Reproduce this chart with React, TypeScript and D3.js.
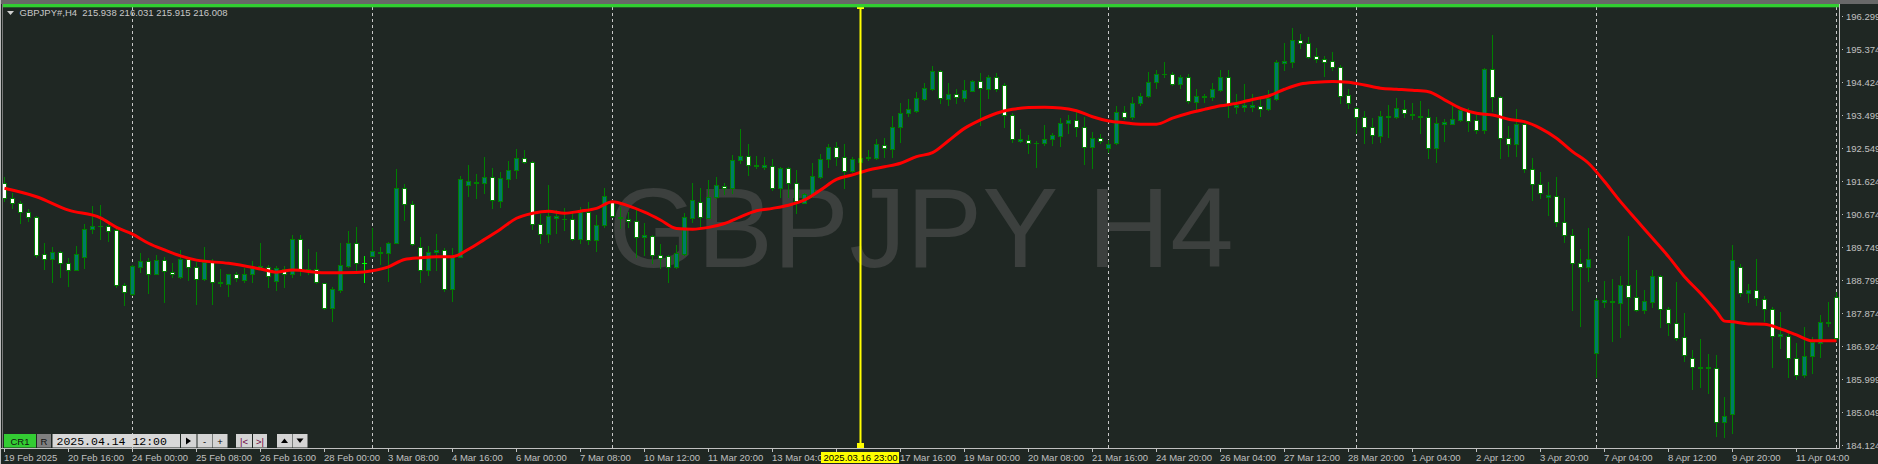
import { useEffect, useRef } from "react"
import * as d3 from "d3"

// GBPJPY H4 candles, 19 Feb 2025 .. 11 Apr 2025
const OPEN = [
  191.56, 191.13, 190.99, 190.74, 190.59, 189.54, 189.4, 189.6, 189.29, 189.09,
  189.46, 190.25, 190.34, 190.34, 190.23, 188.66, 188.41, 189.18, 189.35, 188.98,
  189.37, 189.03, 188.89, 189.4, 189.18, 188.84, 189.32, 188.72, 188.69, 188.98,
  188.81, 188.98, 189.16, 189.18, 188.78, 189.12, 188.98, 189.97, 189.11, 189.12,
  188.72, 188.01, 188.52, 189.2, 189.86, 189.29, 189.49, 189.61, 189.57, 189.86,
  191.42, 190.96, 189.74, 189.09, 189.61, 189.66, 188.55, 189.46, 191.51, 191.6,
  191.56, 191.73, 191.05, 191.67, 191.93, 192.27, 192.16, 190.4, 190.11, 190.58,
  190.54, 190.55, 189.97, 190.74, 189.94, 190.37, 191.02, 190.6, 190.55, 190.48,
  190.04, 190.05, 189.52, 189.49, 189.18, 189.54, 190.57, 191.02, 190.57, 191.16,
  191.48, 191.42, 192.21, 192.33, 192.04, 192.02, 192.04, 191.42, 191.99, 191.56,
  190.99, 191.22, 191.73, 192.24, 192.58, 192.3, 191.9, 192.16, 192.26, 192.27,
  192.65, 192.53, 193.15, 193.55, 193.6, 193.94, 194.23, 194.74, 193.95, 194.08,
  193.97, 194.17, 194.45, 194.23, 194.57, 194.34, 193.49, 192.76, 192.78, 192.69,
  192.69, 192.81, 192.89, 193.26, 193.35, 193.15, 192.58, 192.84, 192.55, 192.69,
  193.57, 193.43, 193.83, 194.03, 194.43, 194.65, 194.65, 194.37, 194.57, 193.86,
  193.99, 194.0, 194.2, 194.57, 193.72, 193.72, 193.72, 193.74, 193.66, 193.94,
  194.97, 194.99, 195.62, 195.53, 195.16, 195.08, 195.02, 194.85, 194.06, 193.69,
  193.43, 193.15, 192.89, 193.44, 193.43, 193.66, 193.53, 193.47, 193.43, 192.55,
  193.24, 193.23, 193.35, 193.6, 193.35, 193.06, 194.79, 194.0, 192.84, 192.67,
  193.23, 191.96, 191.53, 191.16, 191.19, 190.45, 190.08, 189.29, 189.18, 186.74,
  188.19, 188.17, 188.15, 188.66, 188.33, 187.96, 188.18, 188.92, 187.98, 187.59,
  187.19, 186.59, 186.3, 186.3, 186.31, 184.78, 185.0, 189.18, 188.44, 188.52,
  188.27, 187.98, 187.22, 187.22, 186.59, 186.11, 186.65, 187.02, 187.62, 188.33,
]
const HIGH = [
  191.73, 191.28, 191.05, 190.82, 190.61, 189.86, 189.74, 189.63, 189.43, 189.77,
  190.4, 190.91, 190.94, 190.4, 190.28, 188.72, 189.23, 189.57, 189.43, 189.52,
  189.46, 189.29, 189.66, 189.46, 189.32, 189.74, 189.4, 189.12, 188.99, 189.03,
  189.15, 189.35, 189.86, 189.23, 189.2, 189.2, 190.08, 190.08, 189.69, 189.6,
  188.73, 188.61, 189.86, 190.2, 190.31, 189.49, 190.28, 189.74, 189.89, 191.96,
  191.53, 191.05, 190.03, 189.77, 190.11, 189.72, 189.72, 191.76, 192.07, 191.81,
  192.3, 191.99, 191.87, 192.18, 192.53, 192.5, 192.17, 190.68, 191.5, 190.79,
  190.85, 190.71, 190.88, 191.02, 190.65, 191.42, 191.08, 190.88, 190.74, 190.79,
  190.42, 190.08, 189.83, 189.52, 189.8, 190.71, 191.56, 191.42, 191.65, 191.73,
  191.56, 192.35, 193.09, 192.67, 192.33, 192.3, 192.24, 192.0, 192.01, 191.93,
  191.28, 192.13, 192.38, 192.67, 192.72, 192.67, 192.3, 192.5, 192.5, 192.81,
  192.84, 193.46, 193.83, 193.94, 194.14, 194.4, 194.88, 194.77, 194.4, 194.23,
  194.48, 194.48, 194.68, 194.63, 194.68, 194.4, 193.55, 193.09, 192.92, 192.75,
  193.21, 192.98, 193.4, 193.49, 193.57, 193.43, 193.01, 192.95, 192.78, 193.74,
  193.74, 194.0, 194.11, 194.71, 194.77, 194.99, 194.71, 194.63, 194.65, 194.23,
  194.09, 194.4, 194.77, 194.77, 194.09, 194.37, 194.09, 193.94, 194.2, 195.05,
  195.53, 195.96, 195.79, 195.7, 195.39, 195.16, 195.28, 194.91, 194.23, 193.72,
  193.6, 193.4, 193.6, 193.77, 193.97, 193.92, 193.83, 193.89, 193.66, 193.43,
  193.38, 193.77, 193.72, 193.69, 193.49, 194.82, 195.76, 194.03, 193.18, 193.66,
  193.29, 192.27, 191.87, 191.59, 191.73, 191.13, 190.25, 189.69, 190.28, 188.3,
  188.78, 188.84, 188.92, 190.05, 189.09, 188.52, 189.09, 188.95, 188.04, 188.75,
  187.87, 186.82, 187.13, 186.71, 186.68, 185.49, 189.8, 189.26, 188.69, 189.4,
  188.35, 188.04, 187.9, 187.33, 187.02, 187.47, 187.19, 187.82, 188.18, 188.47,
]
const LOW = [
  191.05, 190.85, 190.42, 190.48, 189.46, 189.12, 188.75, 188.89, 188.64, 189.08,
  189.15, 190.14, 189.97, 189.91, 188.61, 188.1, 188.38, 189.03, 188.44, 188.97,
  188.18, 188.89, 188.86, 188.81, 188.13, 188.81, 188.13, 188.64, 188.35, 188.78,
  188.75, 188.75, 189.14, 188.61, 188.52, 188.61, 188.89, 188.95, 188.98, 188.72,
  187.98, 187.64, 188.47, 189.18, 189.03, 188.75, 189.48, 189.26, 188.78, 189.85,
  190.51, 189.8, 188.75, 188.95, 189.09, 188.5, 188.21, 189.45, 191.19, 191.13,
  191.28, 190.85, 190.88, 191.45, 191.7, 192.13, 190.25, 189.86, 189.89, 190.14,
  190.23, 189.94, 189.86, 189.83, 189.63, 190.31, 190.59, 190.28, 190.31, 189.46,
  189.52, 189.29, 189.15, 188.75, 189.15, 189.52, 190.45, 190.31, 190.56, 191.13,
  191.25, 191.28, 192.13, 191.79, 191.99, 191.96, 191.36, 191.16, 191.16, 190.71,
  190.98, 191.16, 191.7, 192.01, 192.07, 191.42, 191.87, 192.13, 192.21, 192.24,
  192.3, 192.3, 192.72, 193.46, 193.58, 193.92, 194.2, 193.83, 193.77, 193.83,
  193.89, 194.16, 193.21, 193.97, 194.17, 193.15, 192.72, 192.72, 192.41, 192.01,
  192.64, 192.64, 192.61, 192.98, 192.89, 192.1, 191.99, 192.69, 192.44, 192.67,
  193.38, 193.38, 193.77, 194.0, 194.26, 194.57, 194.34, 194.26, 193.83, 193.63,
  193.86, 193.92, 194.17, 193.43, 193.55, 193.6, 193.6, 193.46, 193.63, 193.92,
  194.77, 194.85, 195.39, 195.11, 194.99, 194.6, 194.77, 193.83, 193.69, 192.98,
  192.69, 192.69, 192.72, 192.87, 193.4, 193.43, 193.38, 192.98, 192.27, 192.16,
  192.75, 193.22, 193.32, 193.04, 192.98, 192.97, 193.6, 192.27, 192.33, 192.33,
  191.87, 191.08, 191.13, 190.65, 190.34, 189.88, 187.96, 187.5, 188.78, 186.05,
  188.04, 187.08, 187.19, 187.52, 187.93, 187.87, 188.04, 187.47, 187.25, 187.1,
  186.51, 185.71, 185.77, 185.6, 184.38, 184.35, 184.47, 188.35, 188.18, 188.1,
  187.64, 186.34, 186.88, 186.05, 185.99, 186.06, 186.17, 186.62, 187.5, 187.1,
]
const CLOSE = [
  191.13, 190.99, 190.74, 190.59, 189.52, 189.4, 189.6, 189.29, 189.09, 189.54,
  190.25, 190.34, 190.34, 190.2, 188.66, 188.47, 189.2, 189.35, 188.98, 189.37,
  189.06, 188.98, 189.4, 189.18, 188.84, 189.32, 188.75, 188.75, 188.98, 188.86,
  188.98, 189.15, 189.19, 188.92, 189.15, 188.98, 189.97, 189.12, 189.13, 188.75,
  188.01, 188.55, 189.23, 189.86, 189.29, 189.29, 189.63, 189.56, 189.86, 191.42,
  190.96, 189.83, 189.09, 189.6, 189.66, 188.55, 189.49, 191.67, 191.61, 191.56,
  191.73, 191.08, 191.7, 191.93, 192.27, 192.16, 190.4, 190.11, 190.62, 190.62,
  190.55, 189.97, 190.74, 189.94, 190.37, 191.19, 190.62, 190.56, 190.48, 190.03,
  190.08, 189.52, 189.43, 189.18, 189.57, 190.59, 191.08, 190.59, 191.16, 191.5,
  191.42, 192.21, 192.33, 192.07, 192.06, 192.06, 191.42, 191.99, 191.56, 191.05,
  191.25, 191.76, 192.24, 192.58, 192.3, 191.9, 192.24, 192.26, 192.29, 192.67,
  192.55, 193.15, 193.55, 193.66, 193.97, 194.25, 194.74, 193.97, 194.08, 193.99,
  194.2, 194.45, 194.25, 194.57, 194.23, 193.49, 192.81, 192.81, 192.69, 192.69,
  192.81, 192.92, 193.26, 193.35, 193.15, 192.58, 192.84, 192.75, 192.67, 193.57,
  193.43, 193.83, 194.03, 194.43, 194.65, 194.65, 194.37, 194.57, 193.89, 194.03,
  194.02, 194.23, 194.57, 193.77, 193.77, 193.76, 193.76, 193.66, 193.97, 194.99,
  195.02, 195.62, 195.53, 195.13, 195.08, 194.99, 194.85, 194.03, 193.83, 193.43,
  193.15, 192.92, 193.46, 193.46, 193.69, 193.55, 193.48, 193.42, 192.55, 193.26,
  193.28, 193.38, 193.63, 193.32, 193.06, 194.79, 194.0, 192.84, 192.67, 193.23,
  191.96, 191.53, 191.28, 191.22, 190.45, 190.08, 189.29, 189.18, 189.4, 188.24,
  188.24, 188.21, 188.66, 188.33, 187.96, 188.21, 188.92, 187.98, 187.59, 187.16,
  186.68, 186.34, 186.33, 186.33, 184.78, 184.95, 189.37, 188.44, 188.52, 188.3,
  187.98, 187.22, 187.27, 186.59, 186.11, 186.65, 187.05, 187.61, 187.58, 187.16,
]

// moving average, sampled at these bars
const MA_INDEX = [
  0, 4, 8, 12, 14, 16, 18, 20, 22, 24, 28, 32, 34, 36, 40, 44, 46, 48, 50, 52,
  54, 56, 58, 60, 62, 64, 66, 68, 70, 72, 74, 76, 78, 80, 82, 84, 86, 88, 90, 92,
  94, 96, 98, 100, 102, 104, 106, 108, 110, 112, 114, 116, 118, 120, 122, 124, 126, 128, 130, 132,
  134, 136, 138, 140, 142, 144, 146, 148, 150, 152, 154, 156, 158, 160, 162, 164, 166, 168, 170, 172,
  174, 176, 178, 180, 182, 184, 186, 188, 190, 192, 194, 196, 198, 200, 202, 204, 206, 208, 210, 212,
  214, 215, 216, 218, 220, 222, 224, 226, 228, 229,
]
const MA_VALUE = [
  191.41, 191.17, 190.79, 190.57, 190.3, 190.11, 189.85, 189.66, 189.49, 189.37,
  189.28, 189.12, 189.03, 189.09, 189.01, 189.02, 189.07, 189.18, 189.39, 189.44,
  189.47, 189.47, 189.68, 189.96, 190.25, 190.56, 190.7, 190.76, 190.7, 190.76,
  190.84, 191.03, 190.91, 190.73, 190.51, 190.27, 190.25, 190.3, 190.41, 190.6,
  190.77, 190.84, 190.93, 191.08, 191.36, 191.66, 191.79, 191.93, 192.02, 192.12,
  192.31, 192.42, 192.76, 193.11, 193.35, 193.54, 193.65, 193.7, 193.71, 193.69,
  193.61, 193.44, 193.32, 193.27, 193.23, 193.23, 193.4, 193.54, 193.65, 193.75,
  193.82, 193.93, 194.03, 194.22, 194.37, 194.42, 194.44, 194.42, 194.34, 194.25,
  194.22, 194.19, 194.15, 193.92, 193.68, 193.54, 193.49, 193.37, 193.3, 193.11,
  192.83, 192.45, 192.12, 191.6, 191.03, 190.51, 189.99, 189.47, 188.9, 188.43,
  187.91, 187.64, 187.62, 187.56, 187.55, 187.42, 187.25, 187.08, 187.08, 187.08,
]

const PRICE_TICKS = [
  196.299, 195.374, 194.424, 193.499, 192.549, 191.624, 190.674,
  189.749, 188.799, 187.874, 186.924, 185.999, 185.049, 184.124,
]

// one label every 8 bars
const TIME_LABELS = [
  "19 Feb 2025", "20 Feb 16:00", "24 Feb 00:00", "25 Feb 08:00", "26 Feb 16:00",
  "28 Feb 00:00", "3 Mar 08:00", "4 Mar 16:00", "6 Mar 00:00", "7 Mar 08:00",
  "10 Mar 12:00", "11 Mar 20:00", "13 Mar 04:00", "14 Mar 12:00", "17 Mar 16:00",
  "19 Mar 00:00", "20 Mar 08:00", "21 Mar 16:00", "24 Mar 20:00", "26 Mar 04:00",
  "27 Mar 12:00", "28 Mar 20:00", "1 Apr 04:00", "2 Apr 12:00", "3 Apr 20:00",
  "7 Apr 04:00", "8 Apr 12:00", "9 Apr 20:00", "11 Apr 04:00",
]

const WEEK_SEPARATORS = [16, 46, 76, 107, 138, 169, 199, 229]
const CURSOR_BAR = 107
const CURSOR_LABEL = "2025.03.16 23:00"
const LIME_BAR = 45

const FONT = "'Liberation Sans', Arial, sans-serif"
const BG = "#1f2723"
const WICK = "#008000"
const BULL = "#007a6a"
const BEAR = "#ffffff"

export default function App() {
  const svgRef = useRef<SVGSVGElement>(null)

  useEffect(() => {
    if (!svgRef.current) return
    document.body.style.margin = "0"

    const svg = d3.select(svgRef.current)
    svg.selectAll("*").remove()

    const W = 1878
    const H = 464
    const plotRight = 1839
    const plotBottom = 448

    const n = OPEN.length
    const x = d3.scaleLinear().domain([0, n - 1]).range([4, 4 + 8 * (n - 1)])
    const y = d3.scaleLinear().domain([184.124, 196.299]).range([445, 16])
    const py = (v: number) => Math.round(y(v)) + 0.5

    svg.append("rect").attr("width", W).attr("height", H).attr("fill", BG)

    // watermark
    svg
      .append("text")
      .attr("x", 921)
      .attr("y", 267)
      .attr("text-anchor", "middle")
      .style("font-family", FONT)
      .style("font-size", "114px")
      .style("fill", "#3c403e")
      .text("GBPJPY H4")

    // weekly separators
    svg
      .selectAll(".sep")
      .data(WEEK_SEPARATORS)
      .enter()
      .append("line")
      .attr("x1", (d) => x(d) + 0.5)
      .attr("x2", (d) => x(d) + 0.5)
      .attr("y1", 7)
      .attr("y2", plotBottom)
      .style("stroke", "#c8c8c8")
      .style("stroke-dasharray", "3,3")

    // candles
    const bars = d3.range(n)
    const g = svg.append("g")
    bars.forEach((i) => {
      const cx = x(i) + 0.5
      const color = i === LIME_BAR ? "#00ff00" : WICK
      g.append("line")
        .attr("x1", cx)
        .attr("x2", cx)
        .attr("y1", py(HIGH[i]) - 0.5)
        .attr("y2", py(LOW[i]) + 0.5)
        .style("stroke", color)
      const top = py(Math.max(OPEN[i], CLOSE[i]))
      const bot = py(Math.min(OPEN[i], CLOSE[i]))
      if (bot - top < 1) {
        g.append("line")
          .attr("x1", cx - 2.5)
          .attr("x2", cx + 2.5)
          .attr("y1", top)
          .attr("y2", top)
          .style("stroke", color)
      } else {
        g.append("rect")
          .attr("x", cx - 2)
          .attr("y", top)
          .attr("width", 4)
          .attr("height", bot - top)
          .style("fill", CLOSE[i] > OPEN[i] ? BULL : BEAR)
          .style("stroke", WICK)
      }
    })

    // moving average
    const maLine = d3
      .line<number>()
      .x((d) => x(MA_INDEX[d]) + 0.5)
      .y((d) => y(MA_VALUE[d]))
      .curve(d3.curveMonotoneX)
    svg
      .append("path")
      .datum(d3.range(MA_INDEX.length))
      .attr("d", maLine)
      .style("fill", "none")
      .style("stroke", "#ff0000")
      .style("stroke-width", 3)

    // cursor line
    const cxCur = x(CURSOR_BAR) + 0.5
    svg
      .append("line")
      .attr("x1", cxCur)
      .attr("x2", cxCur)
      .attr("y1", 5)
      .attr("y2", plotBottom)
      .style("stroke", "#ffff00")
      .style("stroke-width", 2)
    svg.append("rect").attr("x", cxCur - 3.5).attr("y", 5).attr("width", 7).attr("height", 4).attr("fill", "#ffff00")
    svg.append("rect").attr("x", cxCur - 3.5).attr("y", 443).attr("width", 7).attr("height", 5).attr("fill", "#ffff00")

    // top bars and frame
    svg.append("rect").attr("x", 0).attr("y", 0).attr("width", W).attr("height", 4).attr("fill", "#686868")
    svg.append("rect").attr("x", 3).attr("y", 4).attr("width", plotRight - 3).attr("height", 3.3).attr("fill", "#32cd32")
    svg.append("line").attr("x1", 0.5).attr("x2", 0.5).attr("y1", 0).attr("y2", H).style("stroke", "#bdbdbd")
    svg.append("line").attr("x1", 2.5).attr("x2", 2.5).attr("y1", 4).attr("y2", plotBottom).style("stroke", "#7a7a7a")
    svg
      .append("line")
      .attr("x1", 0)
      .attr("x2", plotRight + 0.5)
      .attr("y1", plotBottom + 0.5)
      .attr("y2", plotBottom + 0.5)
      .style("stroke", "#c0c0c0")
    svg
      .append("line")
      .attr("x1", plotRight + 0.5)
      .attr("x2", plotRight + 0.5)
      .attr("y1", 4)
      .attr("y2", plotBottom + 0.5)
      .style("stroke", "#c0c0c0")

    // title
    svg.append("path").attr("d", "M7,11 L14,11 L10.5,15 Z").attr("fill", "#d0d0d0")
    svg
      .append("text")
      .attr("x", 19.5)
      .attr("y", 16)
      .style("font-family", FONT)
      .style("font-size", "9.5px")
      .style("fill", "#c8c8c8")
      .attr("xml:space", "preserve")
      .text("GBPJPY#,H4  215.938 216.031 215.915 216.008")

    // price axis
    const yAxis = svg.append("g")
    PRICE_TICKS.forEach((t) => {
      const ty = Math.round(y(t))
      yAxis.append("rect").attr("x", 1842).attr("y", ty).attr("width", 1).attr("height", 1).attr("fill", "#c0c0c0")
      yAxis
        .append("text")
        .attr("x", 1846)
        .attr("y", ty + 0.5)
        .attr("dy", "0.35em")
        .style("font-family", FONT)
        .style("font-size", "9.5px")
        .style("fill", "#c0c0c0")
        .text(t.toFixed(3))
    })

    // time axis (the label hidden behind the cursor box is not drawn)
    const cursorLeft = cxCur - 39.5
    const cursorRight = cxCur + 38.5
    const xAxis = svg.append("g")
    TIME_LABELS.forEach((label, k) => {
      const tx = x(k * 8)
      xAxis
        .append("line")
        .attr("x1", tx + 0.5)
        .attr("x2", tx + 0.5)
        .attr("y1", plotBottom)
        .attr("y2", plotBottom + 4)
        .style("stroke", "#c0c0c0")
      if (tx > cursorLeft && tx < cursorRight) return
      xAxis
        .append("text")
        .attr("x", tx)
        .attr("y", 460.5)
        .style("font-family", FONT)
        .style("font-size", "9.5px")
        .style("fill", "#c0c0c0")
        .text(label)
    })

    // cursor time label
    svg.append("rect").attr("x", cursorLeft).attr("y", 452).attr("width", 78).attr("height", 11).attr("fill", "#ffff00")
    svg
      .append("text")
      .attr("x", cxCur)
      .attr("y", 461)
      .attr("text-anchor", "middle")
      .style("font-family", FONT)
      .style("font-size", "9.5px")
      .style("fill", "#000")
      .text(CURSOR_LABEL)

    // bottom-left toolbar
    const tb = svg.append("g")
    const box = (bx: number, bw: number, fill: string) =>
      tb.append("rect").attr("x", bx).attr("y", 434).attr("width", bw).attr("height", 13.5).attr("fill", fill)
    const label = (lx: number, text: string, fill: string, anchor = "middle", family = FONT, size = "9.5px") =>
      tb
        .append("text")
        .attr("x", lx)
        .attr("y", 444.5)
        .attr("text-anchor", anchor)
        .style("font-family", family)
        .style("font-size", size)
        .style("fill", fill)
        .text(text)

    box(4, 32, "#33cc33")
    label(20, "CR1", "#111")
    box(37, 14, "#808080")
    label(44, "R", "#111")
    box(52.5, 127.5, "#d8d8d8")
    label(56.5, "2025.04.14 12:00", "#000", "start", "'Liberation Mono', monospace", "11.5px")
    box(181, 15.5, "#d4d4d4")
    tb.append("path").attr("d", "M186,437.5 L191,441 L186,444.5 Z").attr("fill", "#000")
    box(197.5, 14.5, "#d4d4d4")
    label(204.7, "-", "#000")
    box(212.5, 15, "#d4d4d4")
    label(220, "+", "#000")
    box(236, 16, "#d4d4d4")
    label(244, "|<", "#700040")
    box(253, 14, "#d4d4d4")
    label(260, ">|", "#700040")
    box(277, 15, "#d4d4d4")
    tb.append("path").attr("d", "M281,443 L288,443 L284.5,438.5 Z").attr("fill", "#000")
    box(292.5, 15, "#d4d4d4")
    tb.append("path").attr("d", "M296.5,438.5 L303.5,438.5 L300,443 Z").attr("fill", "#000")
  }, [])

  return <svg ref={svgRef} width={1878} height={464} style={{ display: "block" }}></svg>
}
